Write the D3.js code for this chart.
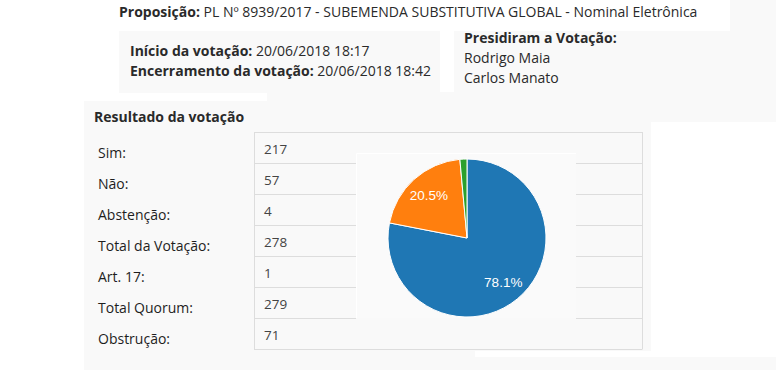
<!DOCTYPE html>
<html>
<head>
<meta charset="utf-8">
<script src="https://cdn.jsdelivr.net/npm/d3@7"></script>
<style>
  html, body { margin: 0; padding: 0; background: #fff; }
  svg { display: block; font-family: "Open Sans", sans-serif; }
</style>
</head>
<body>
<div id="chart"></div>
<script>
// values
let rowLabels = ["Sim:", "Não:", "Abstenção:", "Total da Votação:", "Art. 17:", "Total Quorum:", "Obstrução:"]
let rowValues = [217, 57, 4, 278, 1, 279, 71]
let pieCategories = ["Sim", "Não", "Abstenção"]
let pieValues = [217, 57, 4]

let w = 776
let h = 370
let bg = "#f9f9f9"
let lineColor = "#dddddd"

let svg = d3.select("#chart").append("svg")
  .attr("width", w)
  .attr("height", h)

// page background patches (screenshot mosaic)
let patches = [
  [84, 31, 692, 339, bg],
  [730, 0, 46, 31, bg],
  [84, 31, 35, 70, "#fff"],
  [119, 93, 148, 8, "#fff"],
  [440, 31, 14, 61, "#fff"],
  [651, 122, 125, 229, "#fff"],
  [475, 351, 301, 6, "#fff"]
]
svg.selectAll("rect.patch")
  .data(patches)
  .enter()
  .append("rect")
  .attr("class", "patch")
  .attr("x", d => d[0])
  .attr("y", d => d[1])
  .attr("width", d => d[2])
  .attr("height", d => d[3])
  .attr("fill", d => d[4])

// header texts
let addLine = (x, y, bold, normal, size) => {
  let t = svg.append("text")
    .attr("x", x)
    .attr("y", y)
    .attr("font-size", size || 14)
    .attr("fill", "#2a2a2a")
  if (bold) t.append("tspan").attr("font-weight", "bold").text(bold)
  if (normal) t.append("tspan").text(normal)
}
addLine(119, 17, "Proposição:", " PL Nº 8939/2017 - SUBEMENDA SUBSTITUTIVA GLOBAL - Nominal Eletrônica")
addLine(130, 56, "Início da votação:", " 20/06/2018 18:17")
addLine(130, 76, "Encerramento da votação:", " 20/06/2018 18:42")
addLine(464, 43, "Presidiram a Votação:", null)
addLine(464, 63, null, "Rodrigo Maia")
addLine(464, 83, null, "Carlos Manato")
addLine(94, 122, "Resultado da votação", null)

// table
let y = d3.scaleBand()
  .domain(rowLabels)
  .range([132, 349])

let colX = 254
let colRight = 642
let pieBox = {x0: 356, x1: 576, y0: 153, y1: 318}

let table = svg.append("g")

table.selectAll("text.label")
  .data(rowLabels)
  .enter()
  .append("text")
  .attr("class", "label")
  .attr("x", 98)
  .attr("y", d => y(d) + 26)
  .attr("font-size", 14)
  .attr("font-weight", 500)
  .attr("fill", "#1e1e1e")
  .text(d => d)

table.selectAll("text.value")
  .data(rowValues)
  .enter()
  .append("text")
  .attr("class", "value")
  .attr("x", 264)
  .attr("y", (d, i) => y(rowLabels[i]) + 22)
  .attr("font-size", 13.5)
  .attr("fill", "#444")
  .text(d => d)

// faint box behind the pie: same fill, white left/top edge
svg.append("rect")
  .attr("x", pieBox.x0)
  .attr("y", pieBox.y0)
  .attr("width", pieBox.x1 - pieBox.x0)
  .attr("height", pieBox.y1 - pieBox.y0)
  .attr("fill", "#fafafa")
svg.append("path")
  .attr("d", "M" + (pieBox.x0 + 0.5) + "," + pieBox.y1 + "V" + (pieBox.y0 + 0.5) + "H" + pieBox.x1)
  .attr("fill", "none")
  .attr("stroke", "#fff")

// row separators (interrupted by the pie box)
let lineYs = rowLabels.map(d => y(d)).concat([y.range()[1]])
lineYs.forEach((ly, i) => {
  let yy = Math.round(ly) + 0.5
  let full = i === 0 || i === lineYs.length - 1
  let segs = full ? [[colX, colRight]] : [[colX, pieBox.x0], [pieBox.x1, colRight]]
  segs.forEach(s => {
    svg.append("line")
      .attr("x1", s[0]).attr("x2", s[1])
      .attr("y1", yy).attr("y2", yy)
      .attr("stroke", lineColor)
  })
})
;[colX, colRight].forEach(xx => {
  svg.append("line")
    .attr("x1", xx + 0.5).attr("x2", xx + 0.5)
    .attr("y1", y.range()[0]).attr("y2", y.range()[1] + 0.5)
    .attr("stroke", lineColor)
})

// pie
let radius = 79
let color = d3.scaleOrdinal()
  .domain(pieCategories)
  .range(d3.schemeCategory10)

let pie = d3.pie().sort(null).value(d => d)
let arc = d3.arc().innerRadius(0).outerRadius(radius)
let labelArc = d3.arc().innerRadius(57).outerRadius(57)
let total = d3.sum(pieValues)

let pg = svg.append("g")
  .attr("transform", "translate(467,238)")

let arcs = pie(pieValues)
pg.selectAll("path")
  .data(arcs)
  .enter()
  .append("path")
  .attr("d", arc)
  .attr("fill", (d, i) => color(pieCategories[i]))
  .attr("stroke", "#fff")
  .attr("stroke-width", 1)

pg.selectAll("text")
  .data(arcs.filter(d => d.value / total > 0.05))
  .enter()
  .append("text")
  .attr("transform", d => "translate(" + labelArc.centroid(d) + ")")
  .attr("dy", "0.35em")
  .attr("text-anchor", "middle")
  .attr("font-family", "'Liberation Sans', Arial, sans-serif")
  .attr("font-size", 13.5)
  .attr("fill", "#fff")
  .text(d => (d.value / total * 100).toFixed(1) + "%")
</script>
</body>
</html>
